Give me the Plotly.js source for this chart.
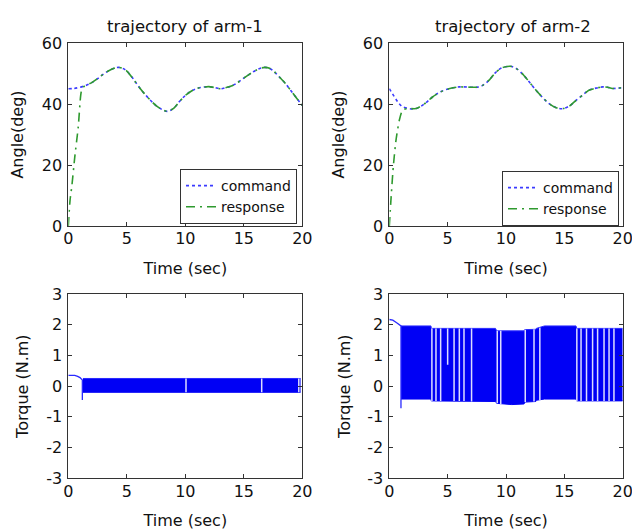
<!DOCTYPE html>
<html>
<head>
<meta charset="utf-8">
<script src="https://cdn.plot.ly/plotly-3.0.1.min.js"></script>
<style>html,body{margin:0;padding:0;background:#fff;}#chart{width:632px;height:532px;}</style>
</head>
<body>
<div id="chart"></div>
<script>
// ---- data ----
// arm-1 angle trajectory (deg)
const arm1CmdT = [0, 0.5, 1, 1.5, 2, 2.5, 3, 3.5, 4, 4.3, 4.7, 5, 5.5, 6, 6.5, 7, 7.5, 8, 8.5, 9, 9.5, 10, 10.5, 11, 11.5, 12, 12.5, 13, 13.5, 14, 14.5, 15, 15.5, 16, 16.5, 16.8, 17.2, 17.6, 18, 18.5, 19, 19.5, 20];
const arm1CmdV = [45, 45.1, 45.5, 46.1, 47, 48.3, 49.8, 51, 51.8, 52, 51.6, 50.8, 48.5, 45.8, 43.4, 41.3, 39.5, 38.2, 37.6, 38.6, 40.8, 42.8, 44.2, 45.1, 45.5, 45.7, 45.4, 45, 45.4, 46, 47.1, 48.5, 49.8, 51, 51.8, 52, 51.7, 50.6, 49, 47, 44.5, 42, 39.5];
const arm1RspT = [0, 0.15, 0.3, 0.55, 0.85, 1.05, 1.15, 1.3, 1.6, 2, 2.5, 3, 3.5, 4, 4.3, 4.7, 5, 5.5, 6, 6.5, 7, 7.5, 8, 8.5, 9, 9.5, 10, 10.5, 11, 11.5, 12, 12.5, 13, 13.5, 14, 14.5, 15, 15.5, 16, 16.5, 16.8, 17.2, 17.6, 18, 18.5, 19, 19.5, 20];
const arm1RspV = [0, 8.5, 13, 22.5, 32.5, 42.5, 44.8, 45.6, 46.3, 47, 48.3, 49.8, 51, 51.8, 52, 51.6, 50.8, 48.5, 45.8, 43.4, 41.3, 39.5, 38.2, 37.6, 38.6, 40.8, 42.8, 44.2, 45.1, 45.5, 45.7, 45.4, 45, 45.4, 46, 47.1, 48.5, 49.8, 51, 51.8, 52, 51.7, 50.6, 49, 47, 44.5, 42, 39.5];

// arm-2 angle trajectory (deg)
const arm2CmdT = [0, 0.4, 0.8, 1.1, 1.7, 2.3, 3, 3.7, 4.4, 5.1, 6, 7, 7.5, 8, 8.6, 9.1, 9.6, 10.1, 10.5, 10.9, 11.5, 12, 12.8, 13.7, 14.3, 14.9, 15.5, 16, 16.6, 17.1, 17.7, 18.3, 18.7, 19.1, 19.6, 20];
const arm2CmdV = [45, 42.6, 40.3, 39.2, 38.5, 38.5, 40, 42.3, 44, 45, 45.6, 45.5, 45.5, 46.1, 48, 50.3, 51.8, 52.3, 52.3, 51.6, 49.5, 47.2, 43.5, 40.1, 38.8, 38.5, 39.5, 41.2, 43, 44.5, 45.2, 45.6, 45.5, 45.1, 45.2, 45.4];
const arm2RspT = [0, 0.14, 0.34, 0.57, 0.86, 1.14, 1.6, 2.3, 3, 3.7, 4.4, 5.1, 6, 7, 7.5, 8, 8.6, 9.1, 9.6, 10.1, 10.5, 10.9, 11.5, 12, 12.8, 13.7, 14.3, 14.9, 15.5, 16, 16.6, 17.1, 17.7, 18.3, 18.7, 19.1, 19.6, 20];
const arm2RspV = [0, 8.5, 19.4, 28, 34.7, 38, 38.5, 38.5, 40, 42.3, 44, 45, 45.6, 45.5, 45.5, 46.1, 48, 50.3, 51.8, 52.3, 52.3, 51.6, 49.5, 47.2, 43.5, 40.1, 38.8, 38.5, 39.5, 41.2, 43, 44.5, 45.2, 45.6, 45.5, 45.1, 45.2, 45.4];

// arm-1 torque (N.m): initial transient, chattering band envelope, gaps
const tq1InitT = [0, 0.55, 0.8, 1.0, 1.15, 1.2, 1.2];
const tq1InitV = [0.35, 0.35, 0.32, 0.28, 0.22, 0.2, -0.45];
const tq1BandT = [1.25, 19.85];
const tq1BandHi = [0.25, 0.25];
const tq1BandLo = [-0.2, -0.2];
const tq1GapT = [10.06, 16.53, 19.7];
const tq1GapHi = [0.25, 0.25, 0.25];
const tq1GapLo = [-0.2, -0.2, -0.2];

// arm-2 torque (N.m)
const tq2InitT = [0, 0.3, 0.6, 0.9, 1.0, 1.0];
const tq2InitV = [2.17, 2.15, 2.07, 1.99, 1.96, -0.72];
const tq2BandT = [1.0, 3.57, 3.6, 9.1, 9.2, 10.5, 11.55, 11.6, 12.55, 12.6, 13.3, 16.0, 16.05, 20];
const tq2BandHi = [1.96, 1.96, 1.88, 1.88, 1.8, 1.79, 1.8, 1.84, 1.85, 1.88, 1.96, 1.96, 1.88, 1.88];
const tq2BandLo = [-0.42, -0.42, -0.48, -0.5, -0.56, -0.6, -0.58, -0.52, -0.5, -0.46, -0.42, -0.42, -0.48, -0.48];
const tq2GapT = [3.65, 4.0, 4.4, 5.0, 5.55, 6.0, 6.4, 7.05, 9.25, 9.55, 11.65, 12.4, 12.9, 16.07, 16.43, 16.9, 17.42, 17.85, 18.4, 18.83, 19.25];
const tq2GapHi = [1.88, 1.88, 1.88, 1.88, 1.88, 1.88, 1.88, 1.88, 1.8, 1.8, 1.84, 1.85, 1.9, 1.88, 1.88, 1.88, 1.88, 1.88, 1.88, 1.88, 1.88];
const tq2GapLo = [-0.48, -0.48, -0.48, 0.7, -0.48, -0.48, -0.48, -0.5, -0.56, -0.58, -0.52, -0.5, -0.46, -0.48, -0.48, -0.48, -0.48, -0.48, -0.48, -0.48, -0.48];

const timeTicks = [0, 5, 10, 15, 20];
const angleTicks = [0, 20, 40, 60];
const torqueTicks = [-3, -2, -1, 0, 1, 2, 3];
const torqueTickText = ['-3', '-2', '-1', '0', '1', '2', '3'];
const titles = ['trajectory of arm-1', 'trajectory of arm-2'];
const seriesNames = ['command', 'response'];

// ---- styles ----
const FONT = 'DejaVu Sans, Liberation Sans, Arial, sans-serif';
const BLUE = '#3b3bff';
const GREEN = '#2f9a2f';
const BAND = '#0000f5';
const GAP = '#dcdcff';

function gapLines(t, lo, hi) {
  const x = [], y = [];
  for (let i = 0; i < t.length; i++) { x.push(t[i], t[i], null); y.push(lo[i], hi[i], null); }
  return {x, y};
}

const traces = [];
function angleTraces(cT, cV, rT, rV, xa, ya, leg) {
  traces.push({x: cT, y: cV, xaxis: xa, yaxis: ya, type: 'scatter', mode: 'lines', name: seriesNames[0],
    legend: leg, line: {color: BLUE, width: 1.6, dash: '3px,3px', shape: 'spline', smoothing: 1}});
  traces.push({x: rT, y: rV, xaxis: xa, yaxis: ya, type: 'scatter', mode: 'lines', name: seriesNames[1],
    legend: leg, line: {color: GREEN, width: 1.6, dash: '9px,5px,2px,5px', shape: 'spline', smoothing: 0.6}});
}
angleTraces(arm1CmdT, arm1CmdV, arm1RspT, arm1RspV, 'x', 'y', 'legend');
angleTraces(arm2CmdT, arm2CmdV, arm2RspT, arm2RspV, 'x2', 'y2', 'legend2');

function torqueTraces(iT, iV, bT, bHi, bLo, gT, gHi, gLo, xa, ya) {
  traces.push({x: bT, y: bLo, xaxis: xa, yaxis: ya, type: 'scatter', mode: 'lines', showlegend: false,
    line: {color: BAND, width: 1}});
  traces.push({x: bT, y: bHi, xaxis: xa, yaxis: ya, type: 'scatter', mode: 'lines', showlegend: false,
    fill: 'tonexty', fillcolor: BAND, line: {color: '#2a2aff', width: 1}});
  const g = gapLines(gT, gLo, gHi);
  traces.push({x: g.x, y: g.y, xaxis: xa, yaxis: ya, type: 'scatter', mode: 'lines', showlegend: false,
    line: {color: GAP, width: 1.5}});
  traces.push({x: iT, y: iV, xaxis: xa, yaxis: ya, type: 'scatter', mode: 'lines', showlegend: false,
    line: {color: '#2a2aff', width: 1.3}});
}
torqueTraces(tq1InitT, tq1InitV, tq1BandT, tq1BandHi, tq1BandLo, tq1GapT, tq1GapHi, tq1GapLo, 'x3', 'y3');
torqueTraces(tq2InitT, tq2InitV, tq2BandT, tq2BandHi, tq2BandLo, tq2GapT, tq2GapHi, tq2GapLo, 'x4', 'y4');

const W = 632, H = 532;
const colX = [[68.3 / W, 302.3 / W], [389.3 / W, 622.7 / W]];
const rowY = [[1 - 226 / H, 1 - 43 / H], [1 - 478.3 / H, 1 - 294 / H]];

function xAxis(dom, anchor) {
  return {domain: dom, anchor: anchor, range: [0, 20], tickvals: timeTicks, ticks: 'inside', ticklen: 4,
    tickcolor: '#333', showline: true, linecolor: '#333', linewidth: 1, mirror: 'ticks', showgrid: false,
    zeroline: false, tickfont: {family: FONT, size: 16, color: '#111'}, ticklabelstandoff: -2,
    ticklabeloverflow: 'allow',
    title: {text: 'Time (sec)', font: {family: FONT, size: 16, color: '#111'}, standoff: 15}};
}
function yAxis(dom, anchor, range, vals, text, ttl, so) {
  const a = {domain: dom, anchor: anchor, range: range, tickvals: vals, ticks: 'inside', ticklen: 4,
    tickcolor: '#333', showline: true, linecolor: '#333', linewidth: 1, mirror: 'ticks', showgrid: false,
    zeroline: false, tickfont: {family: FONT, size: 16, color: '#111'}, ticklabelstandoff: 2,
    ticklabeloverflow: 'allow',
    title: {text: ttl, font: {family: FONT, size: 16, color: '#111'}, standoff: so}};
  if (text) a.ticktext = text;
  return a;
}

const legendBase = {bgcolor: '#fff', bordercolor: '#333', borderwidth: 1, font: {family: FONT, size: 14, color: '#111'},
  xanchor: 'right', yanchor: 'top', tracegroupgap: 0, itemwidth: 30, traceorder: 'normal'};

const layout = {
  width: W, height: H, margin: {l: 0, r: 0, t: 0, b: 0}, paper_bgcolor: '#fff', plot_bgcolor: '#fff',
  showlegend: true,
  xaxis: xAxis(colX[0], 'y'), yaxis: yAxis(rowY[0], 'x', [0, 60], angleTicks, null, 'Angle(deg)', 14),
  xaxis2: xAxis(colX[1], 'y2'), yaxis2: yAxis(rowY[0], 'x2', [0, 60], angleTicks, null, 'Angle(deg)', 14),
  xaxis3: xAxis(colX[0], 'y3'), yaxis3: yAxis(rowY[1], 'x3', [-3, 3], torqueTicks, torqueTickText, 'Torque (N.m)', 13),
  xaxis4: xAxis(colX[1], 'y4'), yaxis4: yAxis(rowY[1], 'x4', [-3, 3], torqueTicks, torqueTickText, 'Torque (N.m)', 12),
  legend: Object.assign({}, legendBase, {x: 297 / W, y: 1 - 169 / H}),
  legend2: Object.assign({}, legendBase, {x: 619 / W, y: 1 - 171 / H}),
  annotations: [
    {text: titles[0], xref: 'paper', yref: 'paper', x: 185 / W, y: 1 - 27 / H, xanchor: 'center', yanchor: 'middle',
      showarrow: false, font: {family: FONT, size: 16.5, color: '#111'}},
    {text: titles[1], xref: 'paper', yref: 'paper', x: 513 / W, y: 1 - 27 / H, xanchor: 'center', yanchor: 'middle',
      showarrow: false, font: {family: FONT, size: 16.5, color: '#111'}}
  ]
};

Plotly.newPlot('chart', traces, layout, {staticPlot: true, displayModeBar: false});
</script>
</body>
</html>
